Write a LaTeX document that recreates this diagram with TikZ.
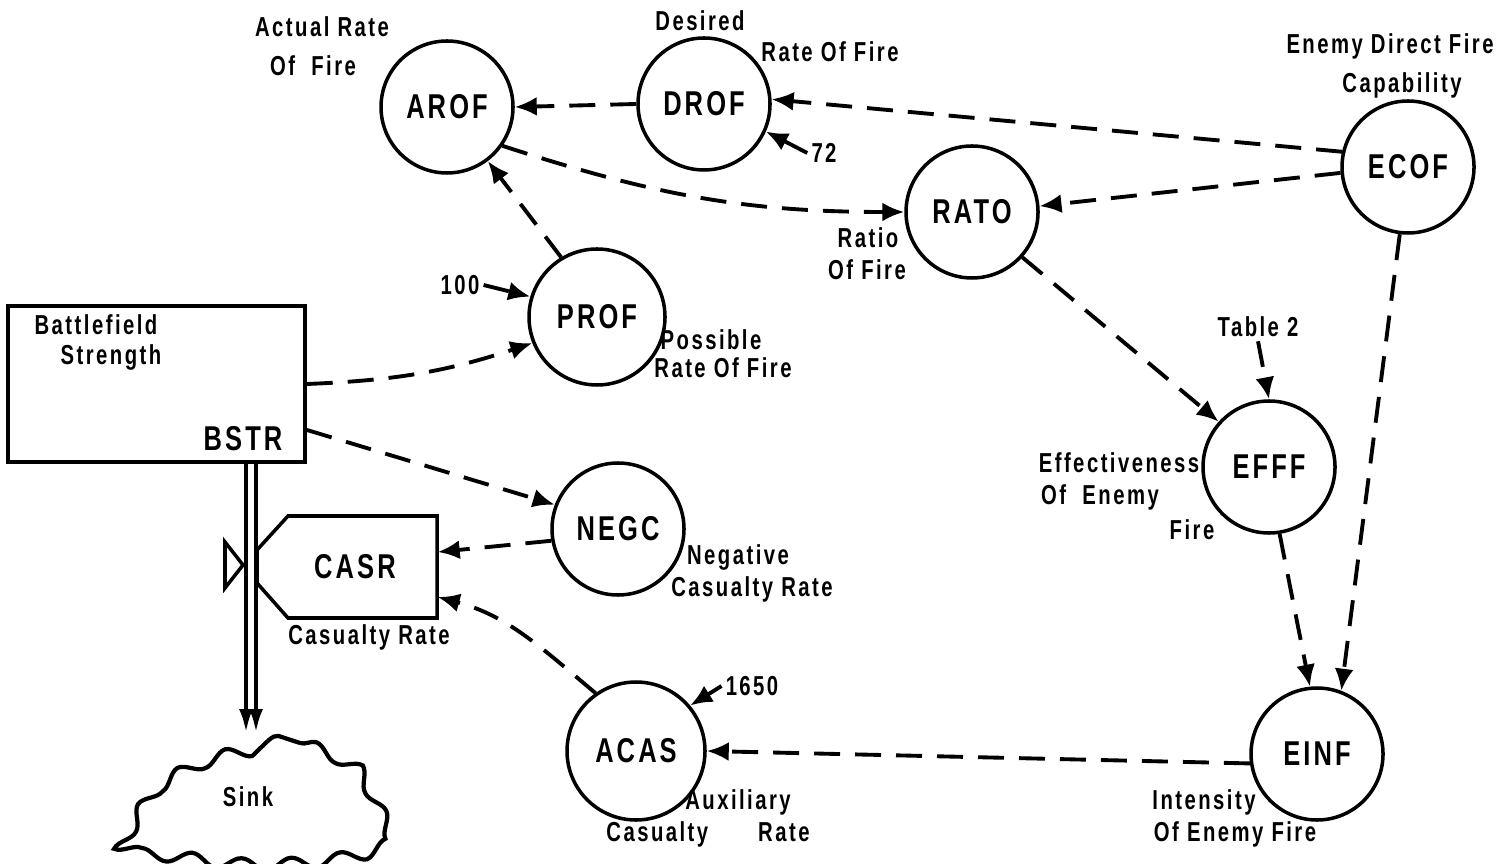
\documentclass[tikz,border=0pt]{standalone}
\usepackage{fontspec}
\setmainfont{Liberation Sans}[FakeStretch=0.74, LetterSpace=9]
\usetikzlibrary{positioning, arrows.meta, calc, decorations.pathmorphing}

\begin{document}
\begin{tikzpicture}[
    >={Latex[length=2.2mm,width=1.9mm]},
    aux/.style={circle, draw, line width=1pt, minimum size=1.32cm, inner sep=0pt, font=\fontsize{9.8}{12}\selectfont\bfseries},
    note/.style={font=\fontsize{7.8}{10}\selectfont\bfseries, inner sep=1pt},
    link/.style={->, line width=1.1pt, dash pattern=on 2.6mm off 1.5mm},
    pipe/.style={line width=1.2pt, -{Latex[length=2.4mm,width=1.4mm]}}
]
    \useasboundingbox (0,0) rectangle (15.08,8.63);

    % Auxiliaries
    \node[aux] (arof) at (4.47, 7.56) {AROF};
    \node[aux] (drof) at (7.04, 7.59) {DROF};
    \node[aux] (rato) at (9.72, 6.51) {RATO};
    \node[aux] (ecof) at (14.08, 6.96) {ECOF};
    \node[aux, minimum size=1.36cm] (prof) at (5.97, 5.46) {PROF};
    \node[aux] (negc) at (6.18, 3.34) {NEGC};
    \node[aux] (efff) at (12.69, 3.96) {EFFF};
    \node[aux, minimum size=1.38cm] (acas) at (6.36, 1.12) {ACAS};
    \node[aux] (einf) at (13.17, 1.09) {EINF};

    % Level: Battlefield Strength
    \node[draw, line width=1pt, minimum width=2.97cm, minimum height=1.56cm] (bstr) at (1.565, 4.79) {};
    \node[note] (bstr_l1) at (0.96, 5.38) {Battlefield};
    \node[note] (bstr_l2) at (1.11, 5.06) {Strength};
    \node[font=\fontsize{9.8}{12}\selectfont\bfseries] (bstr_name) at (2.43, 4.24) {BSTR};

    % Rate: Casualty Rate
    \draw[line width=1pt] (2.88, 3.47) -- (4.37, 3.47) -- (4.37, 2.45) -- (2.88, 2.45) -- (2.57, 2.80) -- (2.57, 3.13) -- cycle;
    \node[minimum width=1.64cm, minimum height=1.02cm, font=\fontsize{9.8}{12}\selectfont\bfseries] (casr) at (3.55, 2.96) {CASR};
    \draw[line width=1pt] (2.25, 3.21) -- (2.43, 2.98) -- (2.25, 2.75) -- cycle; % valve
    \node[note] (casr_l1) at (3.69, 2.26) {Casualty Rate};

    % Outflow pipe and sink
    \coordinate (outL) at (2.46, 4.01);
    \coordinate (outR) at (2.56, 4.01);
    \coordinate (inL) at (2.46, 1.30);
    \coordinate (inR) at (2.56, 1.30);
    \draw[pipe] (outL) -- (inL);
    \draw[pipe] (outR) -- (inR);
    \draw[line width=1.2pt, decorate, decoration={snake, amplitude=0.6mm, segment length=5mm}]
        plot[smooth cycle] coordinates {(2.51,1.30) (3.00,1.20) (3.45,0.98) (3.66,0.62) (3.78,0.25) (3.20,0.10) (2.45,0.06) (1.70,0.14) (1.20,0.22) (1.38,0.65) (1.60,0.95) (2.00,1.17)};
    \node[note] (sink) at (2.48, 0.66) {Sink};

    % Labels
    \node[note] (arof_l1) at (3.22, 8.36) {Actual Rate};
    \node[note] (arof_l2) at (3.13, 7.97) {Of~~Fire};
    \node[note] (drof_l1) at (7.00, 8.42) {Desired};
    \node[note] (drof_l2) at (8.30, 8.11) {Rate Of Fire};
    \node[note] (ecof_l1) at (13.90, 8.17) {Enemy Direct Fire};
    \node[note] (ecof_l2) at (14.02, 7.78) {Capability};
    \node[note] (rato_l1) at (8.68, 6.25) {Ratio};
    \node[note] (rato_l2) at (8.67, 5.93) {Of Fire};
    \node[note] (prof_l1) at (7.11, 5.23) {Possible};
    \node[note] (prof_l2) at (7.23, 4.95) {Rate Of Fire};
    \node[note] (efff_l1) at (11.19, 4.00) {Effectiveness};
    \node[note] (efff_l2) at (11.00, 3.66) {Of~~Enemy};
    \node[note] (efff_l3) at (11.92, 3.33) {Fire};
    \node[note] (negc_l1) at (7.38, 3.06) {Negative};
    \node[note] (negc_l2) at (7.52, 2.74) {Casualty Rate};
    \node[note] (acas_l1) at (7.38, 0.61) {Auxiliary};
    \node[note] (acas_l2) at (7.08, 0.29) {Casualty\hspace{0.5cm}Rate};
    \node[note] (einf_l1) at (12.04, 0.61) {Intensity};
    \node[note] (einf_l2) at (12.35, 0.29) {Of Enemy Fire};

    % Constants
    \node[note] (c100) at (4.60, 5.78) {100};
    \node[note] (c72) at (8.24, 7.10) {72};
    \node[note] (c1650) at (7.52, 1.77) {1650};
    \node[note] (tab2) at (12.58, 5.36) {Table 2};

    % Connectors
    \draw[link] (drof.west) -- (arof.east);
    \draw[link] (ecof.167) -- (drof.4);
    \draw[link] (ecof.185) -- (rato.5);
    \draw[link] (arof.-35) to[out=-18, in=180] (rato.west);
    \draw[link] (prof.121) -- (arof.-53);
    \draw[link] (c100.east) -- (prof.163);
    \draw[link] (c72.west) -- (drof.-24);
    \draw[link] (bstr.east) to[bend right=8] (prof.202);
    \draw[link] (bstr.-17) -- (negc.159);
    \draw[link] (negc.190) -- ([yshift=1.5mm]casr.east);
    \draw[link] (acas.125) to[out=140, in=-15] ([yshift=-3mm]casr.east);
    \draw[link] (c1650.west) -- (acas.40);
    \draw[link] (einf.188) -- (acas.east);
    \draw[link] (rato.-42) -- (efff.138);
    \draw[link] (tab2.south) -- (efff.north);
    \draw[link] (efff.-81) -- (einf.96);
    \draw[link] (ecof.263) -- (einf.69);

\end{tikzpicture}
\end{document}
